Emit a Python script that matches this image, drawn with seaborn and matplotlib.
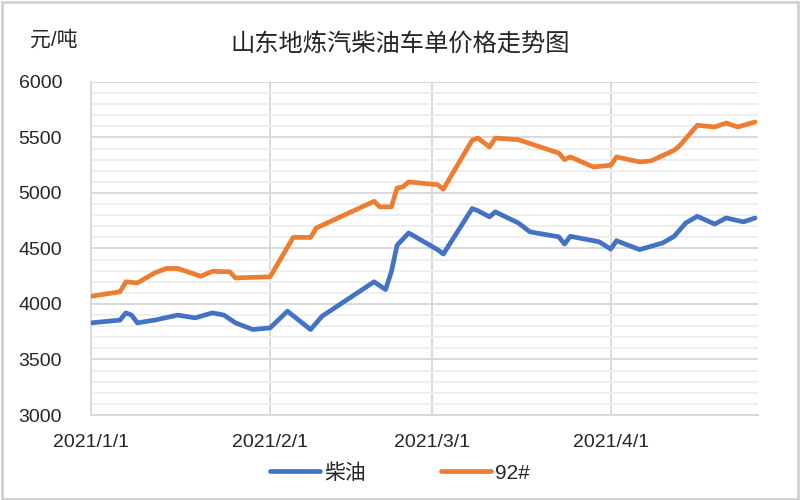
import pandas as pd
import matplotlib.pyplot as plt
from matplotlib.ticker import MultipleLocator
from matplotlib.patches import Rectangle
import seaborn as sns


# data
diesel_dates = ["2021-01-01", "2021-01-06", "2021-01-07", "2021-01-08", "2021-01-09",
                "2021-01-12", "2021-01-16", "2021-01-19", "2021-01-22", "2021-01-24",
                "2021-01-26", "2021-01-29", "2021-02-01", "2021-02-04", "2021-02-08",
                "2021-02-10", "2021-02-19", "2021-02-21", "2021-02-22", "2021-02-23",
                "2021-02-25", "2021-03-02", "2021-03-03", "2021-03-08", "2021-03-09",
                "2021-03-11", "2021-03-12", "2021-03-16", "2021-03-18", "2021-03-23",
                "2021-03-24", "2021-03-25", "2021-03-30", "2021-04-01", "2021-04-02",
                "2021-04-06", "2021-04-10", "2021-04-12", "2021-04-14", "2021-04-16",
                "2021-04-19", "2021-04-21", "2021-04-24", "2021-04-26"]
diesel_price = [3830, 3855, 3920, 3900, 3830,
                3855, 3900, 3875, 3920, 3900,
                3830, 3770, 3785, 3935, 3770,
                3890, 4200, 4130, 4290, 4530,
                4640, 4490, 4450, 4860, 4840,
                4785, 4830, 4730, 4650, 4605,
                4540, 4610, 4560, 4495, 4570,
                4490, 4550, 4610, 4730, 4790,
                4720, 4775, 4740, 4775]

gas_dates = ["2021-01-01", "2021-01-06", "2021-01-07", "2021-01-09", "2021-01-12",
             "2021-01-14", "2021-01-16", "2021-01-20", "2021-01-22", "2021-01-25",
             "2021-01-26", "2021-02-01", "2021-02-05", "2021-02-08", "2021-02-09",
             "2021-02-19", "2021-02-20", "2021-02-22", "2021-02-23", "2021-02-24",
             "2021-02-25", "2021-03-02", "2021-03-03", "2021-03-08", "2021-03-09",
             "2021-03-11", "2021-03-12", "2021-03-16", "2021-03-23", "2021-03-24",
             "2021-03-25", "2021-03-29", "2021-04-01", "2021-04-02", "2021-04-06",
             "2021-04-08", "2021-04-12", "2021-04-13", "2021-04-16", "2021-04-19",
             "2021-04-21", "2021-04-23", "2021-04-26"]
gas_price = [4070, 4110, 4200, 4190, 4280,
             4320, 4320, 4250, 4295, 4290,
             4235, 4245, 4600, 4600, 4685,
             4925, 4875, 4875, 5045, 5055,
             5100, 5075, 5035, 5475, 5495,
             5415, 5495, 5480, 5360, 5300,
             5325, 5235, 5250, 5325, 5280,
             5290, 5385, 5430, 5610, 5595,
             5630, 5595, 5640]

series_names = ["柴油", "92#"]
series_colors = ["#4472C4", "#ED7D31"]
tick_dates = ["2021-01-01", "2021-02-01", "2021-03-01", "2021-04-01"]
tick_labels = ["2021/1/1", "2021/2/1", "2021/3/1", "2021/4/1"]

df = pd.concat([
    pd.DataFrame({"date": pd.to_datetime(diesel_dates), "price": diesel_price, "series": series_names[0]}),
    pd.DataFrame({"date": pd.to_datetime(gas_dates), "price": gas_price, "series": series_names[1]}),
], ignore_index=True)

sns.set_style("white")
plt.rcParams["font.family"] = ["Liberation Sans", "Noto Sans CJK SC", "DejaVu Sans"]

fig = plt.figure(figsize=(8, 5), dpi=100)
ax = fig.add_axes([0.114, 0.17, 0.834, 0.666])

sns.lineplot(data=df, x="date", y="price", hue="series", hue_order=series_names,
             palette=series_colors, estimator=None, sort=False, linewidth=3.4,
             solid_capstyle="round", solid_joinstyle="round", ax=ax, zorder=3)

# axes and grid
ax.set_ylim(3000, 6000)
ax.set_xlim(pd.Timestamp("2021-01-01"), pd.Timestamp("2021-04-26 14:00"))
ax.set_yticks(range(3000, 6001, 500))
ax.yaxis.set_minor_locator(MultipleLocator(100))
ax.set_xticks(pd.to_datetime(tick_dates))
ax.set_xticklabels(tick_labels)
ax.grid(which="major", axis="both", color="#d9d9d9", linewidth=1.4)
ax.grid(which="minor", axis="y", color="#eeeeee", linewidth=1.3)
ax.tick_params(axis="y", which="both", length=0, pad=21, labelsize=14)
ax.tick_params(axis="x", which="major", length=9, color="#d9d9d9", width=1.4,
               pad=5, labelsize=14)
ax.tick_params(axis="x", which="minor", length=0)
for side in ["top", "right"]:
    ax.spines[side].set_visible(False)
for side in ["left", "bottom"]:
    ax.spines[side].set_color("#d9d9d9")
    ax.spines[side].set_linewidth(1.4)
ax.set_xlabel("")
ax.set_ylabel("")

# legend at the bottom
handles, labels = ax.get_legend_handles_labels()
ax.get_legend().remove()
fig.legend(handles, labels, loc="center", bbox_to_anchor=(0.5, 0.054), ncol=2,
           frameon=False, fontsize=15, handlelength=2.4, handletextpad=0.2,
           columnspacing=3.6)

# titles
fig.text(0.5, 0.91, "山东地炼汽柴油车单价格走势图", ha="center", va="center", fontsize=17.5)
fig.text(0.037, 0.92, "元/吨", ha="left", va="center", fontsize=15)

# thin frame round the picture
fig.patches.append(Rectangle((0.002, 0.003), 0.996, 0.994, transform=fig.transFigure,
                             fill=False, edgecolor="#d0d0d0", linewidth=2))

plt.savefig("out.png", dpi=100)
